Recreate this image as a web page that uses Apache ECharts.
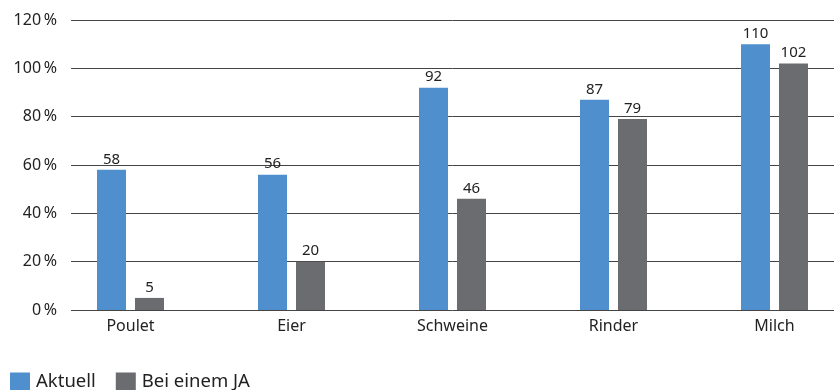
<!DOCTYPE html>
<html><head><meta charset="utf-8">
<script src="https://cdn.jsdelivr.net/npm/echarts@6/dist/echarts.min.js"></script>
<style>html,body{margin:0;padding:0;background:#fff}#c{width:836px;height:390px}</style>
</head><body><div id="c"></div>
<script>
var categories = ['Poulet', 'Eier', 'Schweine', 'Rinder', 'Milch'];
var aktuell = [58, 56, 92, 87, 110];
var beiEinemJA = [5, 20, 46, 79, 102];
var seriesNames = ['Aktuell', 'Bei einem JA'];
var yTicks = [0, 20, 40, 60, 80, 100, 120];

var FONT = '"Noto Sans", sans-serif';
var chart = echarts.init(document.getElementById('c'), null, {renderer: 'canvas'});
chart.setOption({
  animation: false,
  textStyle: {fontFamily: FONT},
  legend: {
    left: 10, top: 372, padding: 0, itemWidth: 20, itemHeight: 18, itemGap: 20, icon: 'rect',
    textStyle: {fontSize: 18.5, color: '#222', fontFamily: FONT, padding: [0, 0, 0, 1]},
    data: seriesNames
  },
  grid: [
    {left: 71, right: 2, top: 20, bottom: 80, outerBoundsMode: 'none', containLabel: false},
    {left: 50, width: 805, top: 20, bottom: 80, outerBoundsMode: 'none', containLabel: false}
  ],
  xAxis: [
    {gridIndex: 0, type: 'value', min: 0, max: 1, show: false},
    {gridIndex: 1, type: 'category', data: categories,
     axisLine: {show: false}, axisTick: {show: false},
     axisLabel: {margin: 8, fontSize: 16, color: '#222', fontFamily: FONT}}
  ],
  yAxis: [
    {gridIndex: 0, type: 'value', min: yTicks[0], max: yTicks[yTicks.length-1], interval: 20,
     axisLine: {show: false}, axisTick: {show: false},
     splitLine: {lineStyle: {color: '#444', width: 1}},
     axisLabel: {margin: 14, fontSize: 16, color: '#222', fontFamily: FONT,
                 formatter: function (v) { return v + '\u2009%'; }}},
    {gridIndex: 1, type: 'value', min: yTicks[0], max: yTicks[yTicks.length-1], interval: 20, show: false}
  ],
  series: [
    {name: seriesNames[0], type: 'bar', xAxisIndex: 1, yAxisIndex: 1, data: aktuell,
     barWidth: 29, barGap: '31%', itemStyle: {color: '#4F8FCD'},
     label: {show: true, position: 'top', distance: 3, fontSize: 15, color: '#222', fontFamily: FONT}},
    {name: seriesNames[1], type: 'bar', xAxisIndex: 1, yAxisIndex: 1, data: beiEinemJA,
     barWidth: 29, barGap: '31%', itemStyle: {color: '#6B6C70'},
     label: {show: true, position: 'top', distance: 3, fontSize: 15, color: '#222', fontFamily: FONT}}
  ]
});
</script></body></html>
